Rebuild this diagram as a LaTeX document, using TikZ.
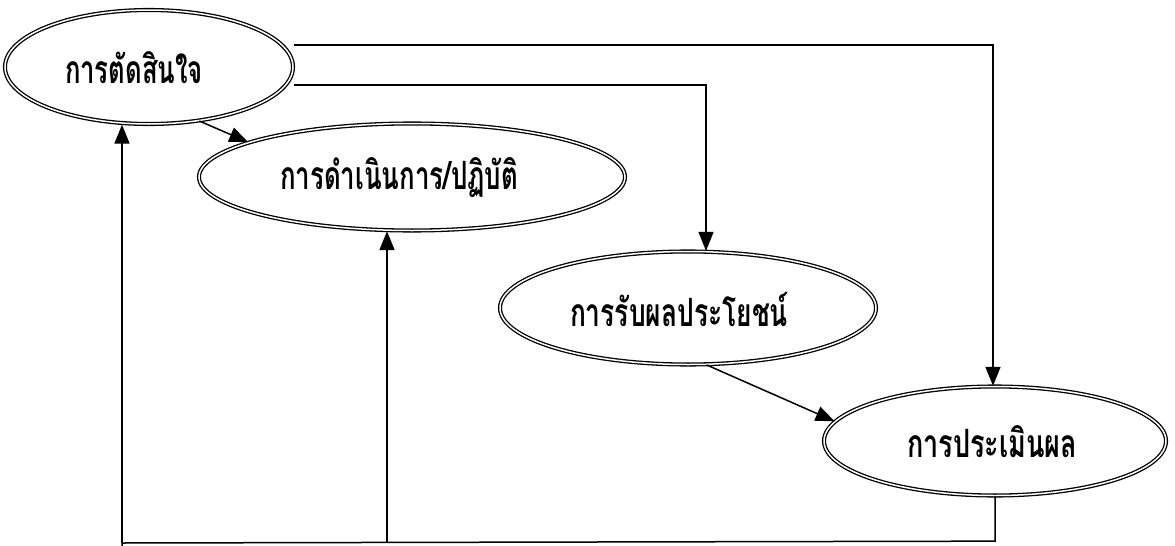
\documentclass[tikz,border=0pt]{standalone}
\usepackage{fontspec}
\usepackage{graphicx}
\newfontfamily\thaifont[Script=Thai]{Loma}
\usetikzlibrary{shapes.geometric,arrows.meta,calc}
\newcommand{\fitw}[2]{\resizebox{#1}{\height}{#2}}
\begin{document}
\begin{tikzpicture}[x=1pt,y=-1pt,
  oval/.style={ellipse, draw, double, double distance=1.5pt, line width=1.3pt, inner sep=0pt},
  lbl/.style={font=\thaifont\bfseries\fontsize{39}{45}\selectfont, inner sep=0pt},
  conn/.style={line width=1.5pt, -{Triangle[length=19pt,width=15pt]}},
  wire/.style={line width=1.5pt}]
\useasboundingbox (0,0) rectangle (1175,546);
\node[oval, minimum width=288pt, minimum height=114pt] (e1) at (149,67) {};
\node[oval, minimum width=426pt, minimum height=107pt] (e2) at (412,177) {};
\node[oval, minimum width=376pt, minimum height=113pt] (e3) at (688,308) {};
\node[oval, minimum width=342pt, minimum height=109pt] (e4) at (995,441) {};
\node[lbl] (t1) at (134,68) {\fitw{138pt}{การตัดสินใจ}};
\node[lbl] (t2) at (399,178) {\fitw{238pt}{การดำเนินการ/ปฏิบัติ}};
\node[lbl] (t3) at (679,309) {\fitw{218pt}{การรับผลประโยชน์}};
\node[lbl] (t4) at (992,442) {\fitw{170pt}{การประเมินผล}};
% forward links
\draw[conn] (e1.-47) -- (e2.168);
\draw[conn] (e3.-72) -- (e4.173);
\draw[conn] ($(e1.east)+(0,-22)$) -| ([xshift=-2pt]e4.north);
\draw[conn] ($(e1.east)+(0,18)$) -| ([xshift=18pt]e3.north);
% feedback
\coordinate (br) at ($(e4.south)+(0,45)$);
\coordinate (bl) at (122,543);
\draw[wire] (e4.south) -- (br) -- (bl) -- (122,546);
\draw[conn] (bl) -- ([xshift=-27pt]e1.south);
\draw[conn] (bl -| 387,0) -- ([xshift=-25pt]e2.south);
\end{tikzpicture}
\end{document}
